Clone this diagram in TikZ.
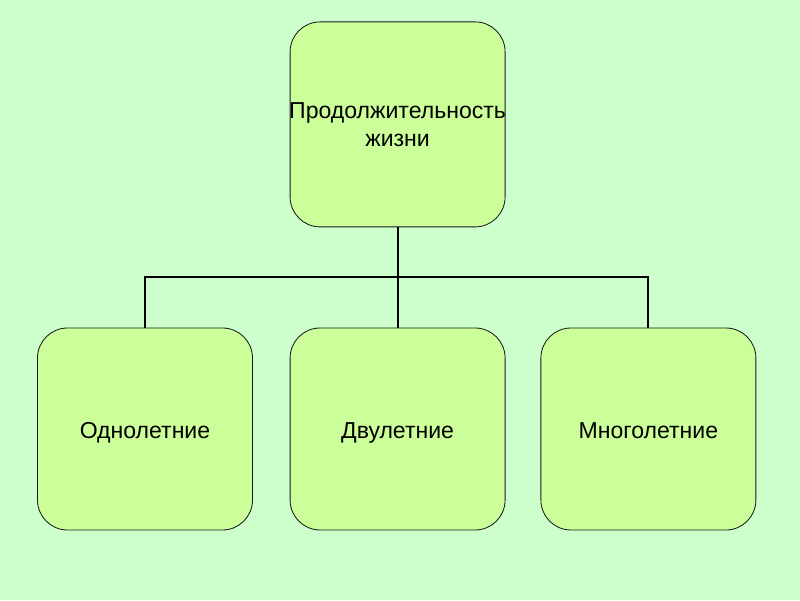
\documentclass[tikz,border=0pt]{standalone}
\usepackage{fontspec}
\setmainfont{Liberation Sans}
\usetikzlibrary{positioning}
\definecolor{cback}{HTML}{CCFFCC}
\definecolor{clime}{HTML}{CCFF99}
\definecolor{cline}{HTML}{1A1A1A}
\tikzset{
  every picture/.style={font=\fontsize{16.4}{20}\selectfont},
  box/.style={draw=cline, fill=clime, rounded corners=0.75cm, align=center, line width=0.6pt,
    minimum width=5.375cm, minimum height=5.1cm, inner sep=2pt},
  wire/.style={draw=black, line width=1.5pt},
}
\begin{document}
\begin{tikzpicture}
  \fill[cback] (0,0) rectangle (20,15);
  \useasboundingbox (0,0) rectangle (20,15);
  % ---- root ----
  \node[box, minimum height=5.125cm, inner xsep=-0.4cm, yshift=-0.05cm] (life) at (9.94,11.94) {Продолжительность\\жизни};
  \coordinate (bus) at (9.94,8.075);
  \draw[wire] (life.south) -- (bus);
  % ---- kinds ----
  \foreach \i/\x/\t in {1/3.625/Однолетние, 2/9.94/Двулетние, 3/16.21/Многолетние} {
    \node[box, minimum height=5.05cm, text height=1.5em, text depth=0.15em] (kind\i) at (\x,4.275) {\t};
    \draw[wire] (kind\i.north) |- (bus);
  }
\end{tikzpicture}
\end{document}
